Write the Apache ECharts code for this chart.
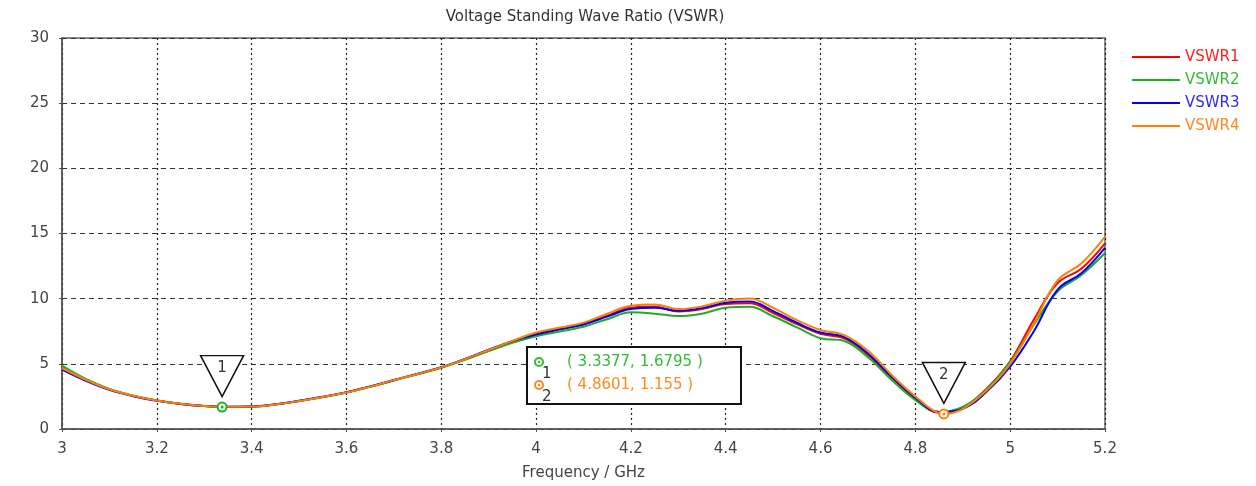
<!DOCTYPE html>
<html>
<head>
<meta charset="utf-8">
<title>VSWR</title>
<script src="https://cdn.jsdelivr.net/npm/echarts@6/dist/echarts.min.js"></script>
<style>
  html, body { margin: 0; padding: 0; background: #ffffff; }
  #chart { width: 1256px; height: 486px; }
</style>
</head>
<body>
<div id="chart"></div>
<script>
// Frequency sweep (GHz) shared by all four ports
const freqGHz = [3.00, 3.05, 3.10, 3.15, 3.20, 3.25, 3.30, 3.35, 3.40, 3.45,
                 3.50, 3.55, 3.60, 3.65, 3.70, 3.75, 3.80, 3.85, 3.90, 3.95,
                 4.00, 4.05, 4.10, 4.15, 4.20, 4.25, 4.30, 4.35, 4.40, 4.45,
                 4.50, 4.55, 4.60, 4.65, 4.70, 4.75, 4.80, 4.85, 4.90, 4.95,
                 5.00, 5.05, 5.10, 5.15, 5.20];

const vswr1 = [4.75, 3.80, 3.05, 2.55, 2.18, 1.93, 1.77, 1.70, 1.72, 1.88,
               2.15, 2.46, 2.80, 3.25, 3.74, 4.22, 4.72, 5.36, 6.06, 6.74,
               7.30, 7.68, 8.05, 8.70, 9.31, 9.40, 9.02, 9.20, 9.60, 9.65,
               8.90, 8.05, 7.30, 6.95, 5.68, 3.95, 2.35, 1.25, 1.65, 3.10,
               5.20, 8.40, 11.20, 12.30, 14.25];

const vswr2 = [4.87, 3.85, 3.08, 2.56, 2.18, 1.92, 1.76, 1.68, 1.72, 1.88,
               2.15, 2.45, 2.79, 3.23, 3.72, 4.20, 4.70, 5.30, 5.98, 6.62,
               7.12, 7.48, 7.85, 8.42, 8.95, 8.85, 8.67, 8.85, 9.30, 9.38,
               8.65, 7.80, 6.96, 6.75, 5.50, 3.76, 2.22, 1.30, 1.70, 3.05,
               5.15, 8.00, 10.55, 11.80, 13.50];

const vswr3 = [4.55, 3.70, 3.00, 2.52, 2.16, 1.92, 1.77, 1.71, 1.73, 1.89,
               2.16, 2.47, 2.82, 3.27, 3.76, 4.24, 4.74, 5.38, 6.08, 6.74,
               7.25, 7.65, 8.02, 8.62, 9.20, 9.30, 9.08, 9.28, 9.68, 9.78,
               9.05, 8.15, 7.40, 7.05, 5.80, 4.00, 2.40, 1.30, 1.55, 2.85,
               4.78, 7.50, 10.70, 11.95, 13.90];

const vswr4 = [4.68, 3.78, 3.05, 2.55, 2.18, 1.93, 1.77, 1.70, 1.72, 1.88,
               2.15, 2.46, 2.80, 3.25, 3.75, 4.22, 4.72, 5.36, 6.06, 6.76,
               7.40, 7.78, 8.16, 8.85, 9.45, 9.55, 9.20, 9.40, 9.85, 10.02,
               9.30, 8.35, 7.60, 7.20, 6.00, 4.15, 2.50, 1.20, 1.55, 2.95,
               5.00, 8.10, 11.40, 12.70, 14.75];

// Markers placed on the traces
const marker1 = { id: '1', freq: 3.3377, vswr: 1.6795 };  // on VSWR2
const marker2 = { id: '2', freq: 4.8601, vswr: 1.155 };   // on VSWR4

const seriesNames = ['VSWR1', 'VSWR2', 'VSWR3', 'VSWR4'];
const seriesColors = ['#ff0000', '#1fae1f', '#0000ff', '#ff8000'];
const legendTextColors = ['#ff2020', '#33bb33', '#2a2aff', '#ff8a20'];

const xTicks = { min: 3, max: 5.2, step: 0.2 };
const yTicks = { min: 0, max: 30, step: 5 };

function toPairs(values, marker) {
  const pts = freqGHz.map((f, i) => [f, values[i]]);
  if (marker) {
    pts.push([marker.freq, marker.vswr]);
    pts.sort((a, b) => a[0] - b[0]);
  }
  return pts;
}

function markerPoints(marker, color) {
  const coord = [marker.freq, marker.vswr];
  return [
    {
      coord: coord,
      symbol: 'path://M0,0L40,0L20,40Z',
      symbolSize: [43, 41],
      symbolOffset: [0, -31],
      itemStyle: { color: '#ffffff', borderColor: '#111111', borderWidth: 1.5 },
      label: { show: true, formatter: marker.id, offset: [0, -8],
               color: '#333333', fontSize: 15, fontFamily: 'DejaVu Sans' }
    },
    {
      coord: coord,
      symbol: 'circle',
      symbolSize: 9,
      itemStyle: { color: '#ffffff', borderColor: color, borderWidth: 2 },
      label: { show: false }
    },
    {
      coord: coord,
      symbol: 'circle',
      symbolSize: 3,
      itemStyle: { color: color },
      label: { show: false }
    }
  ];
}

const dataSets = [toPairs(vswr1), toPairs(vswr2, marker1), toPairs(vswr3), toPairs(vswr4, marker2)];

const series = seriesNames.map((name, i) => {
  const s = {
    name: name,
    type: 'line',
    data: dataSets[i],
    smooth: 0.4,
    showSymbol: false,
    symbol: 'none',
    lineStyle: { color: seriesColors[i], width: 2 },
    itemStyle: { color: seriesColors[i] },
    z: 2 + i
  };
  if (i === 1) s.markPoint = { data: markerPoints(marker1, seriesColors[1]), z: 10, animation: false };
  if (i === 3) s.markPoint = { data: markerPoints(marker2, seriesColors[3]), z: 10, animation: false };
  return s;
});

const fmt = v => (+v.toFixed(4)).toString();
const font = 'DejaVu Sans';

// Marker readout box
function readoutRow(marker, color, y) {
  return [
    { type: 'circle', shape: { cx: 539, cy: y, r: 4 },
      style: { fill: '#ffffff', stroke: color, lineWidth: 2 }, z: 101 },
    { type: 'circle', shape: { cx: 539, cy: y, r: 1.2 },
      style: { fill: color }, z: 101 },
    { type: 'text', x: 542, y: y + 12,
      style: { text: marker.id, fill: '#333333', font: '15px ' + font,
               textAlign: 'left', textVerticalAlign: 'middle' }, z: 101 },
    { type: 'text', x: 567, y: y,
      style: { text: '( ' + marker.freq + ', ' + marker.vswr + ' )', fill: color,
               font: '15px ' + font, textAlign: 'left', textVerticalAlign: 'middle' }, z: 101 }
  ];
}

const option = {
  animation: false,
  backgroundColor: '#ffffff',
  title: {
    text: 'Voltage Standing Wave Ratio (VSWR)',
    left: 580,
    textAlign: 'center',
    top: 5,
    textStyle: { fontFamily: font, fontSize: 15, fontWeight: 'normal', color: '#333333' }
  },
  legend: {
    orient: 'vertical',
    left: 1127,
    top: 44,
    itemWidth: 48,
    itemHeight: 2,
    itemGap: 7,
    icon: 'rect',
    textStyle: { fontFamily: font, fontSize: 15, lineHeight: 16 },
    data: seriesNames.map((n, i) => ({ name: n, textStyle: { color: legendTextColors[i] } }))
  },
  grid: {
    left: 62, right: 151, top: 38, bottom: 57,
    outerBoundsMode: 'none',
    containLabel: false,
    show: true, borderColor: '#666666', borderWidth: 1.5, backgroundColor: '#ffffff'
  },
  xAxis: {
    type: 'value',
    min: xTicks.min, max: xTicks.max, interval: xTicks.step,
    name: 'Frequency / GHz',
    nameLocation: 'middle',
    nameGap: 37,
    nameTextStyle: { fontFamily: font, fontSize: 15, color: '#444444' },
    axisLine: { show: true, onZero: false, lineStyle: { color: '#555555', width: 1.5 } },
    axisTick: { show: true, length: 3, lineStyle: { color: '#555555' } },
    axisLabel: { formatter: fmt, margin: 13, fontFamily: font, fontSize: 15, color: '#444444' },
    splitLine: { show: true, lineStyle: { type: [2, 3], color: '#222222', width: 1.2 } }
  },
  yAxis: {
    type: 'value',
    min: yTicks.min, max: yTicks.max, interval: yTicks.step,
    axisLine: { show: true, lineStyle: { color: '#555555', width: 1.5 } },
    axisTick: { show: true, length: 3, lineStyle: { color: '#555555' } },
    axisLabel: { margin: 13, fontFamily: font, fontSize: 15, color: '#444444' },
    splitLine: { show: true, lineStyle: { type: [5, 4], color: '#333333', width: 1 } }
  },
  series: series,
  graphic: [
    { type: 'rect', shape: { x: 527, y: 347, width: 214, height: 57 },
      style: { fill: '#ffffff', stroke: '#111111', lineWidth: 2 }, z: 100 }
  ].concat(readoutRow(marker1, '#33bb33', 362), readoutRow(marker2, '#ff8a20', 385))
};

const chart = echarts.init(document.getElementById('chart'), null, { renderer: 'canvas' });
chart.setOption(option);
</script>
</body>
</html>
